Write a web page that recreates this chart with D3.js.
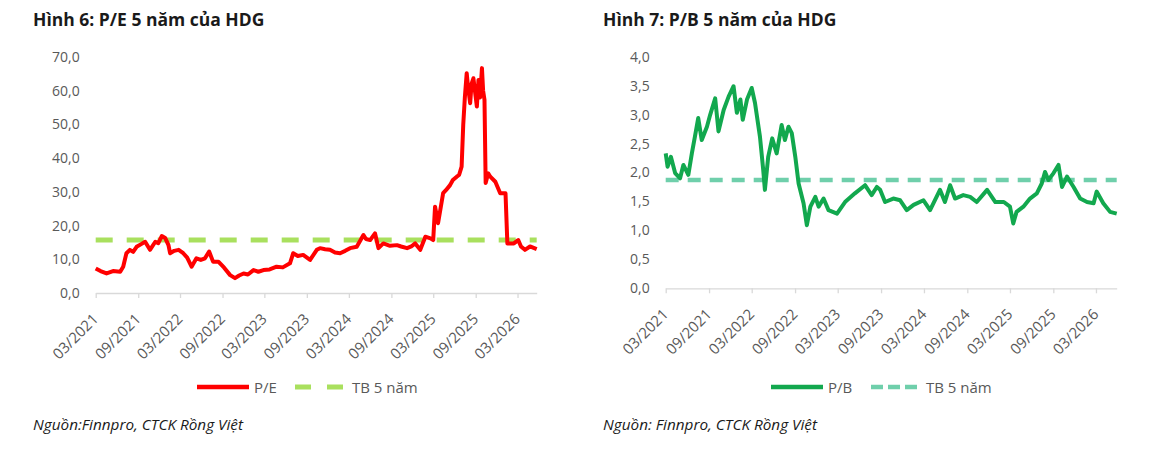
<!DOCTYPE html>
<html>
<head>
<meta charset="utf-8">
<script src="https://cdn.jsdelivr.net/npm/d3@7"></script>
<style>
  body { margin: 0; background: #fff; }
  svg text { font-family: "Open Sans", "Noto Sans", sans-serif; }
</style>
</head>
<body>
<div id="chart"></div>
<script>
// tick labels on the x axis (same for both charts)
var tickLabels = ["03/2021", "09/2021", "03/2022", "09/2022", "03/2023", "09/2023",
                  "03/2024", "09/2024", "03/2025", "09/2025", "03/2026"];

// P/E series
var peDates = [
  "2021-03-01","2021-03-22","2021-04-17","2021-05-15","2021-06-15","2021-06-28","2021-07-12","2021-07-27","2021-08-10","2021-08-25","2021-09-14","2021-10-01","2021-10-22","2021-11-14","2021-11-27","2021-12-12","2021-12-27",
  "2022-01-10","2022-01-17","2022-02-04","2022-02-23","2022-03-15","2022-04-01","2022-04-20","2022-05-11","2022-05-30","2022-06-17","2022-07-05","2022-07-22","2022-08-14","2022-09-08","2022-10-04","2022-10-25","2022-11-12","2022-12-01","2022-12-20",
  "2023-01-13","2023-02-03","2023-02-25","2023-03-24","2023-04-23","2023-05-20","2023-06-20","2023-07-04","2023-07-24","2023-08-16","2023-09-15","2023-10-14","2023-10-28","2023-11-19","2023-12-10",
  "2024-01-01","2024-01-23","2024-02-14","2024-03-06","2024-04-04","2024-05-03","2024-05-14","2024-06-01","2024-06-22","2024-07-07","2024-07-28","2024-08-26","2024-09-25","2024-10-13","2024-11-08","2024-11-26","2024-12-13",
  "2025-01-04","2025-01-26","2025-02-17","2025-03-01","2025-03-09","2025-03-22","2025-04-13","2025-04-25","2025-05-13","2025-05-25","2025-06-11","2025-06-21","2025-07-02","2025-07-09","2025-07-16","2025-07-24","2025-07-30","2025-08-08","2025-08-14","2025-08-22","2025-09-06","2025-09-13","2025-09-20","2025-09-28","2025-10-03","2025-10-09","2025-10-14","2025-10-25","2025-11-03","2025-11-25","2025-12-16",
  "2026-01-08","2026-01-16","2026-02-13","2026-03-04","2026-03-16","2026-04-02","2026-04-24","2026-05-23"
];
var peValues = [
  7.3,6.5,5.8,6.5,6.3,7.8,11.8,12.8,12.2,13.7,14.5,15.2,12.8,15.2,14.8,16.9,16.3,
  14.2,11.8,12.5,12.8,11.8,10.5,7.8,10.3,9.8,10.3,12.3,9.3,9.3,7.5,5.3,4.4,5.2,5.8,5.5,
  6.8,6.3,6.8,7.0,7.8,7.6,8.8,11.8,11.0,11.3,9.8,12.8,13.3,13.0,12.8,
  12.0,11.8,12.5,13.3,13.7,17.2,16.0,15.7,17.7,13.3,14.7,14.0,14.2,13.8,13.3,13.8,14.7,
  12.8,16.7,16.2,15.7,25.6,20.7,29.6,30.5,32.0,33.5,34.5,35.0,37.5,49.9,58.0,65.2,61.0,56.3,62.0,63.7,55.3,63.2,58.0,66.7,60.0,57.3,32.6,35.5,34.5,33.0,29.6,
  29.6,14.7,14.7,15.7,13.8,12.8,13.8,13.0
];
var peAvg = 15.7;
var peTicks = [0, 10, 20, 30, 40, 50, 60, 70];

// P/B series
var pbDates = [
  "2021-03-01","2021-03-09","2021-03-23","2021-04-10","2021-05-01","2021-05-15","2021-06-05","2021-06-20","2021-07-03","2021-07-17","2021-08-01","2021-08-23","2021-09-06","2021-09-27","2021-10-11","2021-11-02","2021-11-23","2021-12-14","2021-12-28",
  "2022-01-12","2022-01-22","2022-02-09","2022-03-01","2022-03-15","2022-04-05","2022-04-19","2022-04-26","2022-05-10","2022-05-27","2022-06-15","2022-07-06","2022-07-20","2022-08-04","2022-08-18","2022-09-02","2022-09-16","2022-10-07","2022-10-21","2022-11-05","2022-11-26","2022-12-10","2022-12-31",
  "2023-01-21","2023-02-26","2023-04-01","2023-05-13","2023-06-25","2023-07-23","2023-08-14","2023-08-28","2023-09-18","2023-10-23","2023-11-21","2023-12-19",
  "2024-01-17","2024-02-28","2024-03-27","2024-05-08","2024-05-29","2024-06-20","2024-07-11","2024-08-15","2024-09-13","2024-10-11","2024-11-24","2024-12-29",
  "2025-02-03","2025-03-01","2025-03-15","2025-03-29","2025-04-27","2025-05-25","2025-06-23","2025-07-14","2025-07-28","2025-08-11","2025-09-02","2025-09-23","2025-10-08","2025-10-29","2025-11-26","2025-12-24",
  "2026-01-22","2026-02-19","2026-03-04","2026-04-01","2026-04-30","2026-05-28"
];
var pbValues = [
  2.33,2.10,2.27,1.99,1.90,2.13,1.96,2.33,2.62,2.94,2.56,2.79,3.00,3.28,2.71,3.08,3.31,3.49,3.03,
  3.26,2.91,3.26,3.46,3.20,2.62,2.04,1.70,2.27,2.59,2.33,2.82,2.56,2.79,2.68,2.27,1.81,1.47,1.09,1.41,1.58,1.41,1.55,
  1.35,1.29,1.49,1.64,1.78,1.61,1.75,1.70,1.49,1.55,1.52,1.35,
  1.44,1.52,1.35,1.70,1.49,1.78,1.55,1.61,1.58,1.49,1.70,1.49,
  1.49,1.41,1.12,1.32,1.41,1.55,1.64,1.81,2.01,1.87,1.99,2.13,1.75,1.93,1.75,1.55,
  1.49,1.47,1.67,1.47,1.32,1.29
];
var pbAvg = 1.87;
var pbTicks = [0, 0.5, 1, 1.5, 2, 2.5, 3, 3.5, 4];

var parseDay = d3.timeParse("%Y-%m-%d");
var parseTick = d3.timeParse("%m/%Y");
var commaFmt = function(v) { return d3.format(".1f")(v).replace(".", ","); };

var svg = d3.select("#chart")
  .append("svg")
    .attr("width", 1170)
    .attr("height", 462);

function drawPanel(p) {
  var width = p.width, height = p.height;

  var g = svg.append("g")
    .attr("transform", "translate(" + p.left + "," + p.top + ")");

  var data = p.dates.map(function(d, i) { return { date: parseDay(d), value: p.values[i] }; });

  var x = d3.scaleTime()
    .domain([parseDay("2021-03-01"), parseDay(p.endDate)])
    .range([0, width]);
  var y = d3.scaleLinear()
    .domain([0, p.yMax])
    .range([height, 0]);

  // x axis
  var xAxis = g.append("g")
    .attr("transform", "translate(0," + height + ")")
    .call(d3.axisBottom(x)
      .tickValues(tickLabels.map(parseTick))
      .tickFormat(d3.timeFormat("%m/%Y"))
      .tickSize(5)
      .tickSizeOuter(0));
  xAxis.select(".domain").attr("stroke", "#d9d9d9").attr("stroke-width", 1.3);
  xAxis.selectAll(".tick line").attr("stroke", "#d9d9d9").attr("stroke-width", 1.3);
  xAxis.selectAll(".tick text")
    .attr("fill", "#595959")
    .attr("font-size", 15)
    .attr("text-anchor", "end")
    .attr("y", 0).attr("dy", 0)
    .attr("transform", "translate(3,27) rotate(-45)");

  // y axis
  var yAxis = g.append("g")
    .call(d3.axisLeft(y).tickValues(p.yTicks).tickFormat(commaFmt).tickSize(0).tickPadding(16));
  yAxis.select(".domain").remove();
  yAxis.selectAll(".tick text").attr("fill", "#595959").attr("font-size", 14);

  // average line
  g.append("line")
    .attr("x1", 0).attr("x2", width)
    .attr("y1", y(p.avg)).attr("y2", y(p.avg))
    .attr("stroke", p.avgColor)
    .attr("stroke-width", p.avgWidth)
    .attr("stroke-dasharray", p.avgDash);

  // the series
  g.append("path")
    .datum(data)
    .attr("fill", "none")
    .attr("stroke", p.color)
    .attr("stroke-width", 4)
    .attr("stroke-linejoin", "round")
    .attr("d", d3.line()
      .x(function(d) { return x(d.date); })
      .y(function(d) { return y(d.value); }));

  // title
  svg.append("text")
    .attr("x", p.titleX).attr("y", 26)
    .attr("font-size", 17.5).attr("font-weight", "bold").attr("fill", "#1a1a1a")
    .text(p.title);

  // legend
  var lg = svg.append("g").attr("transform", "translate(" + p.legendX + ",387)");
  lg.append("line").attr("x1", 0).attr("x2", 52).attr("y1", 0).attr("y2", 0)
    .attr("stroke", p.color).attr("stroke-width", 4.5);
  lg.append("text").attr("x", 57).attr("y", 5.5).attr("font-size", 15).attr("fill", "#595959").text(p.name);
  lg.append("line").attr("x1", p.dashStart).attr("x2", p.dashStart + p.dashLen).attr("y1", 0).attr("y2", 0)
    .attr("stroke", p.avgColor).attr("stroke-width", p.avgWidth).attr("stroke-dasharray", p.legendDash);
  lg.append("text").attr("x", p.dashStart + p.dashLen + 9).attr("y", 5.5).attr("font-size", 15).attr("fill", "#595959").text("TB 5 năm");

  // source
  svg.append("text")
    .attr("x", p.titleX).attr("y", 430)
    .attr("font-size", 15.3).attr("font-style", "italic").attr("fill", "#1a1a1a")
    .text(p.source);
}

drawPanel({
  left: 95.7, top: 57, width: 441, height: 236, endDate: "2026-05-23",
  dates: peDates, values: peValues, yMax: 70, yTicks: peTicks, avg: peAvg,
  color: "#ff0000", avgColor: "#a9e05e", avgWidth: 5, avgDash: "17,14",
  title: "Hình 6: P/E 5 năm của HDG", titleX: 33, name: "P/E",
  legendX: 197, dashStart: 98, dashLen: 48, legendDash: "16,16",
  source: "Nguồn:Finnpro, CTCK Rồng Việt"
});

drawPanel({
  left: 665.7, top: 56.7, width: 451, height: 231.6, endDate: "2026-05-28",
  dates: pbDates, values: pbValues, yMax: 4, yTicks: pbTicks, avg: pbAvg,
  color: "#12a84e", avgColor: "#6fcfab", avgWidth: 4.5, avgDash: "13,9",
  title: "Hình 7: P/B 5 năm của HDG", titleX: 603, name: "P/B",
  legendX: 771, dashStart: 100, dashLen: 46, legendDash: "12,5",
  source: "Nguồn: Finnpro, CTCK Rồng Việt"
});
</script>
</body>
</html>
